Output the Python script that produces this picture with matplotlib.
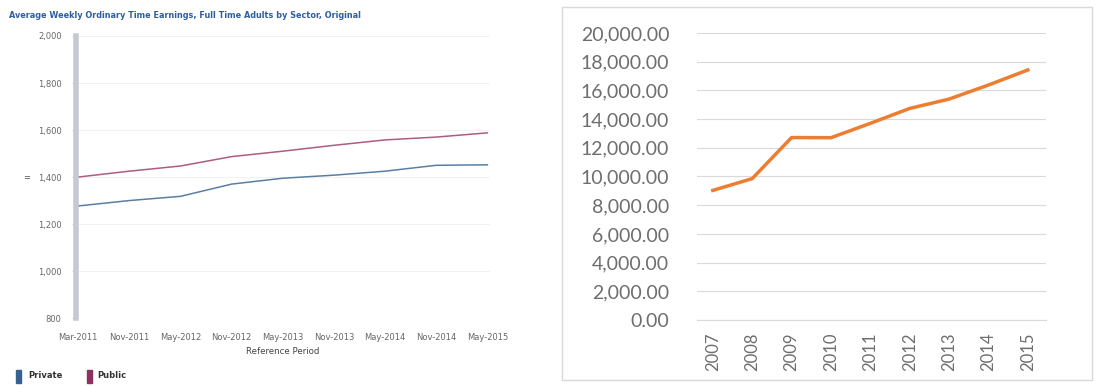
import matplotlib
matplotlib.use("Agg")
import matplotlib.pyplot as plt
from matplotlib.patches import Rectangle
from matplotlib.ticker import FuncFormatter

# left chart: AWOTE by sector
periods = ["Mar-2011", "Nov-2011", "May-2012", "Nov-2012", "May-2013",
           "Nov-2013", "May-2014", "Nov-2014", "May-2015"]
private = [1277, 1300, 1318, 1370, 1395, 1408, 1425, 1450, 1452]
public = [1400, 1425, 1447, 1487, 1510, 1535, 1558, 1570, 1588]
left_yticks = [800, 1000, 1200, 1400, 1600, 1800, 2000]

# right chart: yearly values
years = [2007, 2008, 2009, 2010, 2011, 2012, 2013, 2014, 2015]
values = [9030, 9850, 12710, 12700, 13700, 14740, 15390, 16370, 17420]
right_yticks = list(range(0, 20001, 2000))

fig = plt.figure(figsize=(10.96, 3.87), dpi=100)
fig.patch.set_facecolor("white")

# ---- left
ax1 = fig.add_axes([0.069, 0.178, 0.378, 0.729])
x = list(range(len(periods)))
ax1.plot(x, private, color="#5a7fa3", lw=1.1)
ax1.plot(x, public, color="#ad5c82", lw=1.1)
ax1.set_xlim(-0.05, len(periods) - 0.95)
ax1.set_ylim(800, 2000)
ax1.set_yticks(left_yticks)
ax1.yaxis.set_major_formatter(FuncFormatter(lambda v, p: f"{int(v):,}"))
ax1.set_xticks(x)
ax1.set_xticklabels(periods)
ax1.tick_params(labelsize=6, colors="#bbbbbb", width=0.5)
ax1.tick_params(axis="x", length=0, pad=11)
ax1.tick_params(axis="y", length=3, pad=7)
for t in ax1.get_xticklabels() + ax1.get_yticklabels():
    t.set_color("#666666")
ax1.grid(axis="y", color="#f0f0f0", lw=0.6)
for s in ["top", "right", "bottom"]:
    ax1.spines[s].set_visible(False)
ax1.spines["left"].set_color("#c5c9d0")
ax1.spines["left"].set_linewidth(4)
ax1.set_xlabel("Reference Period", fontsize=6.2, color="#444444", labelpad=3)
fig.text(0.021, 1 - 178 / 387, "=", fontsize=6, color="#555555", va="center")
fig.text(0.008, 1 - 16 / 387,
         "Average Weekly Ordinary Time Earnings, Full Time Adults by Sector, Original",
         fontsize=5.9, color="#2f5f9e", fontweight="bold", va="center")

# legend
fig.patches.append(Rectangle((16 / 1096, 1 - 383 / 387), 5 / 1096, 13 / 387,
                             transform=fig.transFigure, color="#35628e"))
fig.text(28 / 1096, 1 - 376 / 387, "Private", fontsize=6, color="#333333",
         va="center", fontweight="bold")
fig.patches.append(Rectangle((87 / 1096, 1 - 383 / 387), 5 / 1096, 13 / 387,
                             transform=fig.transFigure, color="#8e3060"))
fig.text(97 / 1096, 1 - 376 / 387, "Public", fontsize=6, color="#333333",
         va="center", fontweight="bold")

# ---- right panel border
fig.patches.append(Rectangle((562 / 1096, 1 - 380 / 387), 530 / 1096, 373 / 387,
                             transform=fig.transFigure, fill=False,
                             edgecolor="#d9d9d9", lw=1))

ax2 = fig.add_axes([0.636, 0.173, 0.318, 0.742])
ax2.plot(years, values, color="#ed7d31", lw=2.5)
ax2.set_xlim(2006.6, 2015.45)
ax2.set_ylim(0, 20000)
ax2.set_yticks(right_yticks)
ax2.yaxis.set_major_formatter(FuncFormatter(lambda v, p: f"{v:,.2f}"))
ax2.set_xticks(years)
ax2.set_xticklabels([str(y) for y in years], rotation=90)
ax2.tick_params(length=0, colors="#6e6e6e")
ax2.tick_params(axis="y", labelsize=14, pad=20)
ax2.tick_params(axis="x", labelsize=12, pad=9)
for t in ax2.get_xticklabels() + ax2.get_yticklabels():
    t.set_family(["Lato", "DejaVu Sans"])
ax2.grid(axis="y", color="#d9d9d9", lw=0.8)
ax2.set_axisbelow(True)
for s in ["top", "right", "left"]:
    ax2.spines[s].set_visible(False)
ax2.spines["bottom"].set_color("#d9d9d9")

fig.savefig("out.png", dpi=100)
